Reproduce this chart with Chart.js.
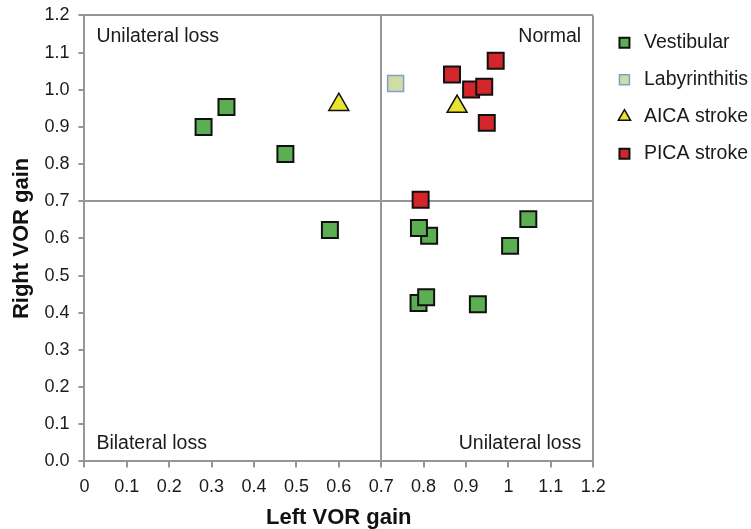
<html>
<head>
<style>
  body { margin: 0; background: #fff; }
  #wrap { width: 751px; height: 529px; }
</style>
</head>
<body>
<div id="wrap"><canvas id="c"></canvas></div>
<script src="https://cdn.jsdelivr.net/npm/chart.js@4/dist/chart.umd.min.js"></script>
<script>
// values
var vestX = [0.281, 0.335, 0.474, 0.579, 0.813, 0.789, 1.047, 1.004, 0.788, 0.806, 0.928];
var vestY = [0.900, 0.954, 0.827, 0.623, 0.607, 0.628, 0.652, 0.580, 0.426, 0.442, 0.423];
var labyX = [0.734];
var labyY = [1.017];
var aicaX = [0.600, 0.879];
var aicaY = [0.960, 0.955];
var picaX = [0.970, 0.867, 0.912, 0.943, 0.949, 0.793];
var picaY = [1.078, 1.041, 1.001, 1.008, 0.911, 0.704];
var xTickLabels = ['0', '0.1', '0.2', '0.3', '0.4', '0.5', '0.6', '0.7', '0.8', '0.9', '1', '1.1', '1.2'];
var yTickLabels = ['0.0', '0.1', '0.2', '0.3', '0.4', '0.5', '0.6', '0.7', '0.8', '0.9', '1.0', '1.1', '1.2'];
var cutoff = 0.7;
var quadrants = ['Unilateral loss', 'Normal', 'Bilateral loss', 'Unilateral loss'];

function pts(xs, ys) {
  return xs.map(function (x, i) { return { x: x, y: ys[i] }; });
}

var font = "'Liberation Sans', Arial, Helvetica, sans-serif";
var frame = '#969696';

function lineColor(ctx) {
  var v = ctx.tick ? ctx.tick.value : null;
  if (v === null) return 'rgba(0,0,0,0)';
  if (Math.abs(v - cutoff) < 1e-6 || Math.abs(v - 1.2) < 1e-6) return frame;
  return 'rgba(0,0,0,0)';
}

var quadLabels = {
  id: 'quadLabels',
  afterDatasetsDraw: function (chart) {
    var a = chart.chartArea, c = chart.ctx;
    c.save();
    c.font = '19.5px ' + font;
    c.fillStyle = '#1a1a1a';
    c.textBaseline = 'middle';
    c.textAlign = 'left';
    c.fillText(quadrants[0], a.left + 12, a.top + 21);
    c.fillText(quadrants[2], a.left + 12, a.bottom - 17.5);
    c.textAlign = 'right';
    c.fillText(quadrants[1], a.right - 12, a.top + 21);
    c.fillText(quadrants[3], a.right - 12, a.bottom - 17.5);
    c.restore();
  }
};

// legend sits a little away from the plot box in the original
var nudgeLegend = {
  id: 'nudgeLegend',
  afterLayout: function (chart) {
    chart.legend.left += 4;
    chart.legend.right += 4;
  }
};

new Chart(document.getElementById('c'), {
  type: 'scatter',
  data: {
    datasets: [
      { label: 'Vestibular', data: pts(vestX, vestY), pointStyle: 'rect', pointRadius: 11.3, pointHoverRadius: 11.3,
        backgroundColor: '#5cae52', borderColor: '#111', borderWidth: 2 },
      { label: 'Labyrinthitis', data: pts(labyX, labyY), pointStyle: 'rect', pointRadius: 11.3, pointHoverRadius: 11.3,
        backgroundColor: '#cfdca2', borderColor: '#7f9ed2', borderWidth: 1.5 },
      { label: 'AICA stroke', data: pts(aicaX, aicaY), pointStyle: 'triangle', pointRadius: 11.5, pointHoverRadius: 11.5,
        backgroundColor: '#e9e22e', borderColor: '#111', borderWidth: 1.5 },
      { label: 'PICA stroke', data: pts(picaX, picaY), pointStyle: 'rect', pointRadius: 11.3, pointHoverRadius: 11.3,
        backgroundColor: '#d2262b', borderColor: '#111', borderWidth: 2 }
    ]
  },
  options: {
    responsive: true,
    maintainAspectRatio: false,
    animation: false,
    layout: { padding: { left: 9, top: 0, right: -3, bottom: 0 } },
    plugins: {
      tooltip: { enabled: false },
      legend: {
        position: 'right',
        align: 'start',
        title: { display: true, text: ' ', font: { size: 10 }, padding: 1.75 },
        labels: {
          usePointStyle: true,
          boxWidth: 19.5,
          boxHeight: 10,
          padding: 17.5,
          color: '#1a1a1a',
          font: { family: font, size: 19.5 }
        }
      }
    },
    scales: {
      x: {
        type: 'linear',
        min: 0, max: 1.2,
        ticks: {
          stepSize: 0.1,
          color: '#1a1a1a',
          padding: 9,
          font: { family: font, size: 18 },
          maxRotation: 0,
          callback: function (v, i) { return xTickLabels[i]; }
        },
        grid: { color: lineColor, lineWidth: 2, tickColor: frame, tickLength: 6, drawTicks: true },
        border: { color: frame, width: 2 },
        title: { display: true, text: 'Left VOR gain', color: '#111', padding: 0,
          font: { family: font, size: 22, weight: 'bold', lineHeight: 1 } }
      },
      y: {
        type: 'linear',
        min: 0, max: 1.2,
        ticks: {
          stepSize: 0.1,
          color: '#1a1a1a',
          padding: 9,
          font: { family: font, size: 18, lineHeight: 0.72 },
          callback: function (v, i) { return yTickLabels[i]; }
        },
        grid: { color: lineColor, lineWidth: 2, tickColor: frame, tickLength: 6, drawTicks: true },
        border: { color: frame, width: 2 },
        title: { display: true, text: 'Right VOR gain', color: '#111', padding: 0,
          font: { family: font, size: 22, weight: 'bold' } }
      }
    }
  },
  plugins: [quadLabels, nudgeLegend]
});
</script>
</body>
</html>
